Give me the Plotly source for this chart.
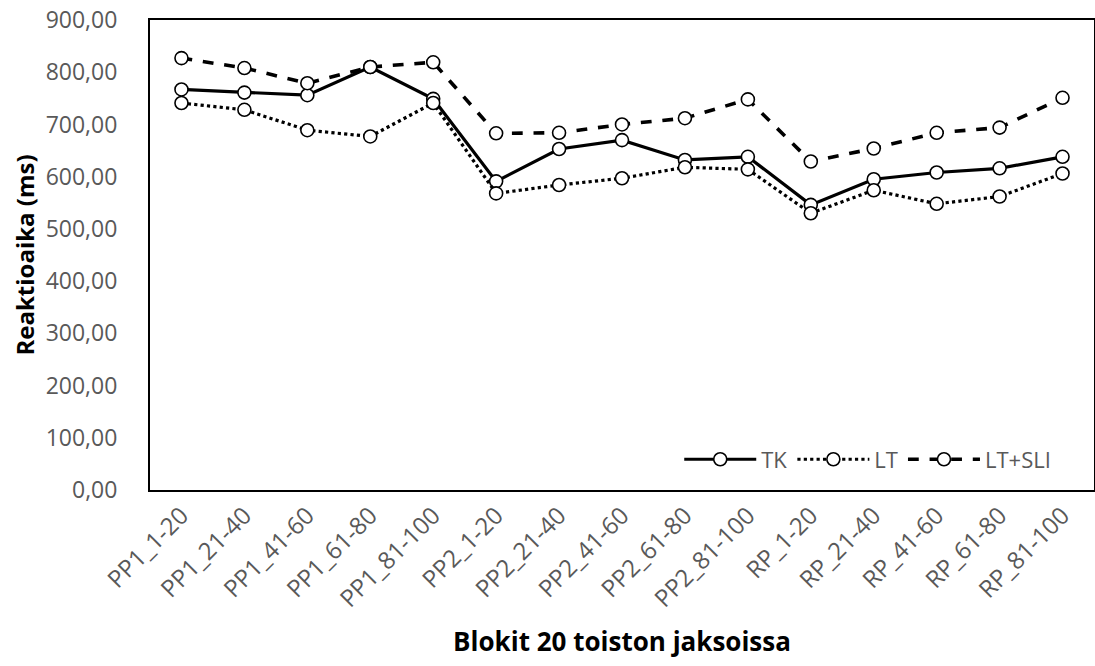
import plotly.graph_objects as go

categories = ["PP1_1-20", "PP1_21-40", "PP1_41-60", "PP1_61-80", "PP1_81-100",
              "PP2_1-20", "PP2_21-40", "PP2_41-60", "PP2_61-80", "PP2_81-100",
              "RP_1-20", "RP_21-40", "RP_41-60", "RP_61-80", "RP_81-100"]
tk = [767, 761, 756, 810, 749, 591, 653, 670, 632, 638, 546, 595, 608, 616, 638]
lt = [741, 728, 689, 677, 741, 568, 584, 597, 618, 614, 530, 574, 548, 562, 606]
lt_sli = [827, 808, 779, 810, 819, 683, 684, 700, 712, 748, 629, 654, 684, 694, 751]

y_ticks = [0, 100, 200, 300, 400, 500, 600, 700, 800, 900]

FONT = "Open Sans"
marker = dict(symbol="circle", size=13, color="white", line=dict(color="black", width=1.6))

fig = go.Figure()
fig.add_trace(go.Scatter(x=categories, y=tk, name="TK", mode="lines+markers",
                         line=dict(color="black", width=3.2, dash="solid"), marker=marker))
fig.add_trace(go.Scatter(x=categories, y=lt, name="LT", mode="lines+markers",
                         line=dict(color="black", width=3.2, dash="dot"), marker=marker))
fig.add_trace(go.Scatter(x=categories, y=lt_sli, name="LT+SLI", mode="lines+markers",
                         line=dict(color="black", width=3.6, dash="dash"), marker=marker))

fig.update_layout(
    width=1095, height=666,
    margin=dict(l=150, r=1, t=20, b=176),
    paper_bgcolor="white", plot_bgcolor="white",
    separators=",.",
    font=dict(family=FONT, size=23, color="#595959"),
    showlegend=True,
    legend=dict(orientation="h", x=0.96, xanchor="right", y=0.065, yanchor="middle",
                bgcolor="rgba(0,0,0,0)", font=dict(family=FONT, size=22, color="#595959"),
                traceorder="normal", itemwidth=72),
    xaxis=dict(
        type="category", range=[-0.5, len(categories) - 0.5],
        tickangle=-45, showgrid=False, zeroline=False, automargin=False,
        showline=True, linecolor="black", linewidth=2, mirror=True, ticks="",
        tickfont=dict(family=FONT, size=24, color="#595959"),
        title=dict(text="<b>Blokit 20 toiston jaksoissa</b>",
                   font=dict(family=FONT, size=26, color="black"), standoff=20),
    ),
    yaxis=dict(
        range=[0, 900], tickvals=y_ticks, tickformat=".2f", showgrid=False, zeroline=False,
        automargin=False, ticklabeloverflow="allow",
        showline=True, linecolor="black", linewidth=2, mirror=True, ticks="",
        ticklabelstandoff=26,
        tickfont=dict(family=FONT, size=23, color="#595959"),
        title=dict(text="<b>Reaktioaika (ms)</b>",
                   font=dict(family=FONT, size=24, color="black"), standoff=4),
    ),
)

fig.write_html("out.html",
               config={"displayModeBar": False},
               post_script="document.body.style.margin='0';document.body.style.overflow='hidden';")
